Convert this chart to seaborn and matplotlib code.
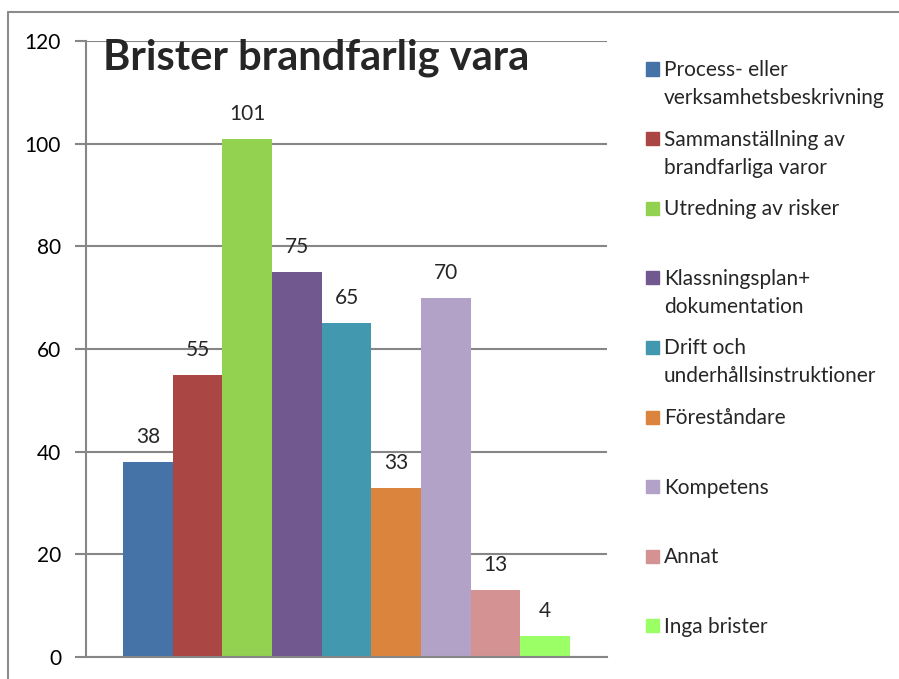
import matplotlib
matplotlib.use('Agg')
import matplotlib.pyplot as plt
import matplotlib.patches as mpatches
import seaborn as sns
import pandas as pd

# data
categories = ['Process- eller\nverksamhetsbeskrivning',
              'Sammanställning av\nbrandfarliga varor',
              'Utredning av risker',
              'Klassningsplan+\ndokumentation',
              'Drift och\nunderhållsinstruktioner',
              'Föreståndare',
              'Kompetens',
              'Annat',
              'Inga brister']
values = [38, 55, 101, 75, 65, 33, 70, 13, 4]
colors = ['#4572A7', '#AA4643', '#93D150', '#71588F', '#4198AF',
          '#DB843D', '#B3A2C8', '#D49392', '#9BFF66']
yticks = [0, 20, 40, 60, 80, 100, 120]
title = 'Brister brandfarlig vara'

sns.set_style('white')
plt.rcParams['font.family'] = ['Lato', 'DejaVu Sans']

df = pd.DataFrame({'kategori': categories, 'antal': values})

W, H = 899, 679
fig = plt.figure(figsize=(W / 100, H / 100), dpi=100)
ax = fig.add_axes([86 / W, (H - 657) / H, (607 - 86) / W, (657 - 41) / H])

sns.barplot(data=df, x='kategori', y='antal', hue='kategori', palette=colors,
            width=1.0, dodge=False, legend=False, saturation=1, linewidth=0,
            ax=ax)

ax.set_xlim(-1.245, 9.245)
ax.set_ylim(0, 120)
ax.set_yticks(yticks)
ax.set_yticklabels([str(t) for t in yticks], fontsize=15)
ax.set_xticks([])
ax.set_xlabel('')
ax.set_ylabel('')
ax.yaxis.grid(True, color='#868686', linewidth=1.5)
ax.set_axisbelow(True)
for s in ['top', 'right']:
    ax.spines[s].set_visible(False)
for s in ['left', 'bottom']:
    ax.spines[s].set_color('#868686')
    ax.spines[s].set_linewidth(1.5)
ax.tick_params(axis='y', which='both', left=True, length=8, width=1.5,
               color='#868686', pad=10, labelcolor='black')

# value labels above bars
for i, v in enumerate(values):
    ax.annotate(str(v), (i, v), xytext=(0, 18), textcoords='offset points',
                ha='center', va='center', fontsize=15)

# title inside the plot area
fig.text(103 / W, (H - 58) / H, title, fontsize=30, fontweight='bold',
         ha='left', va='center')

# legend drawn entry by entry, evenly spaced like the original
for i, (name, c) in enumerate(zip(categories, colors)):
    yc = 69 + i * 69.6
    fig.patches.append(mpatches.Rectangle((646 / W, (H - yc - 6.5) / H), 13 / W, 13 / H,
                                          transform=fig.transFigure, color=c))
    fig.text(664 / W, (H - yc + 9) / H, name, fontsize=15, ha='left', va='top',
             linespacing=1.5, transform=fig.transFigure)

# outer chart border (top and left edges visible)
fig.add_artist(plt.Line2D([8 / W, 8 / W], [0, (H - 12) / H], color='#8C8C8C',
                          linewidth=1.5, transform=fig.transFigure))
fig.add_artist(plt.Line2D([8 / W, 1], [(H - 12) / H, (H - 12) / H], color='#8C8C8C',
                          linewidth=1.5, transform=fig.transFigure))

fig.savefig('out.png', dpi=100)
